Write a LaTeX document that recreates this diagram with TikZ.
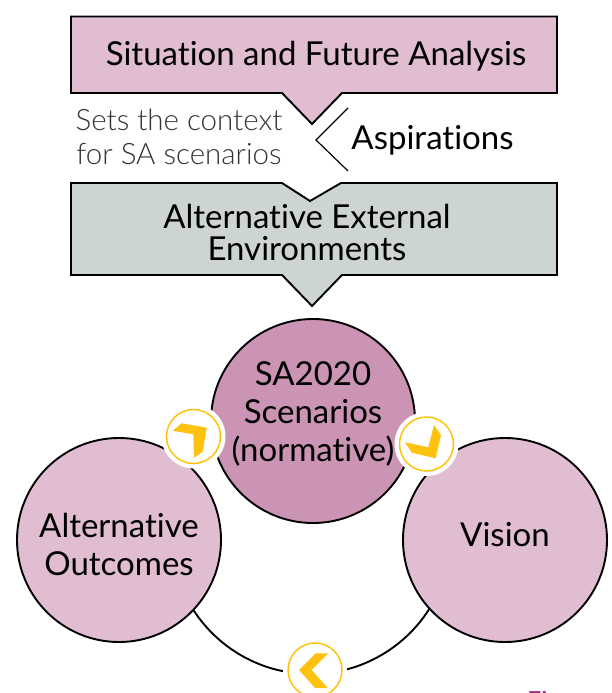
\documentclass[tikz,border=0pt]{standalone}
\usepackage{fontspec}
\setmainfont{Lato}[Ligatures=NoCommon]
\newfontfamily\lightfont{Lato Light}[Ligatures=NoCommon]
\definecolor{rosebox}{HTML}{E0BDD0}
\definecolor{rosedark}{HTML}{CC94B4}
\definecolor{greybox}{HTML}{CCD5D4}
\definecolor{badgeyellow}{HTML}{FFC20E}
\definecolor{figurerose}{HTML}{A0307A}
\tikzset{
	boxshape/.style={draw=black,line width=1.9pt,line join=miter},
	boxtext/.style={font=\fontsize{33}{32}\selectfont,align=center,inner sep=0pt,text=black},
	circletext/.style={font=\fontsize{33}{38}\selectfont,align=center,inner sep=0pt,text=black},
	bigcircle/.style={circle,draw=black,line width=1.9pt,minimum size=204pt,inner sep=0pt},
	halo/.style={circle,fill=white,minimum size=64pt,inner sep=0pt},
	badge/.style={circle,draw=badgeyellow,fill=white,line width=1.5pt,minimum size=54pt,inner sep=0pt},
	chevron/.style={fill=badgeyellow},
}
\begin{document}
\begin{tikzpicture}[x=1pt,y=1pt]
	\useasboundingbox (0,0) rectangle (612,-693);
	%Ring behind the circles
	\node [circle,draw=black,line width=1.9pt,minimum size=280pt,inner sep=0pt] (ring) at (311,-534) {};
	%Top box with its pointer
	\draw [boxshape,fill=rosebox] (71,-16.5) -- (557,-16.5) -- (557,-93) -- (342,-93) -- (312,-124) -- (282,-93) -- (71,-93) -- cycle;
	\node [boxtext] (situation) at (316,-56) {Situation and Future Analysis};
	%Text between the boxes
	\node [font=\lightfont\fontsize{29.5}{34}\selectfont,align=center,inner sep=0pt,text=black!80] (context) at (179,-137) {Sets the context\\for SA scenarios};
	\coordinate (chevTop) at (348,-108);
	\coordinate (chevTip) at (316,-140);
	\coordinate (chevBottom) at (348,-171);
	\draw [line width=1.2pt] (chevTop) -- (chevTip) -- (chevBottom);
	\node [boxtext] (aspirations) at (432.5,-140) {Aspirations};
	%Second box, notch on top and pointer below
	\draw [boxshape,fill=greybox] (71,-183) -- (282,-183) -- (310,-201) -- (341,-183) -- (557,-183) -- (557,-275) -- (342,-275) -- (312,-306) -- (282,-275) -- (71,-275) -- cycle;
	\node [boxtext] (environments) at (307,-232) {Alternative External\\Environments};
	%The three circles
	\node [bigcircle,fill=rosedark] (scenarios) at (313,-421) {};
	\node [bigcircle,fill=rosebox] (outcomes) at (119,-540) {};
	\node [bigcircle,fill=rosebox] (vision) at (505,-540) {};
	\node [circletext] (scenariosText) at (313,-414) {SA2020\\Scenarios\\(normative)};
	\node [circletext] (outcomesText) at (119,-544) {Alternative\\Outcomes};
	\node [circletext] (visionText) at (505,-535) {Vision};
	%Left badge
	\node [halo] (haloLeft) at (193.5,-436.5) {};
	\node [badge] (badgeLeft) at (193.5,-436.5) {};
	\fill [chevron] (172.7,-430.7) -- (181.7,-423.3) -- (206.7,-427.7) -- (202.7,-451.7) -- (194,-457.7) -- (193.3,-434.3) -- cycle;
	%Right badge
	\node [halo] (haloRight) at (426.5,-444) {};
	\node [badge] (badgeRight) at (426.5,-444) {};
	\fill [chevron] (405,-442.3) -- (428.3,-447.3) -- (434,-425) -- (441,-435) -- (435.7,-458.3) -- (411.7,-452.7) -- cycle;
	%Bottom badge
	\node [halo] (haloBottom) at (315,-670) {};
	\node [badge] (badgeBottom) at (315,-670) {};
	\fill [chevron] (315.7,-653.3) -- (328.3,-653.3) -- (311.7,-670) -- (327.7,-688) -- (315,-688) -- (299,-670) -- cycle;
	%Caption cut by the page edge
	\node [anchor=north west,inner sep=0pt,text=figurerose,font=\fontsize{25}{28}\selectfont] (figure) at (527,-691) {Figure};
\end{tikzpicture}
\end{document}
